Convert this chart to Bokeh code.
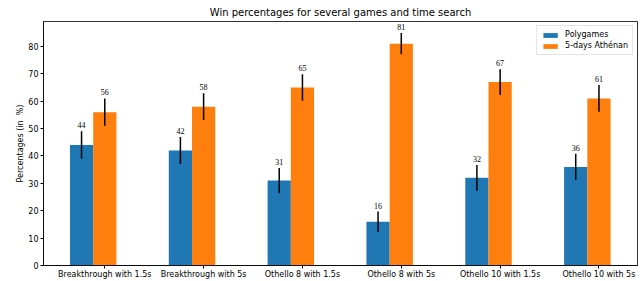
from bokeh.plotting import figure
from bokeh.models import ColumnDataSource, FixedTicker, Range1d, LabelSet, Legend, LegendItem
from bokeh.embed import file_html
from bokeh.resources import INLINE

categories = ["Breakthrough with 1.5s", "Breakthrough with 5s", "Othello 8 with 1.5s",
              "Othello 8 with 5s", "Othello 10 with 1.5s", "Othello 10 with 5s"]
polygames = [44, 42, 31, 16, 32, 36]
athenan = [56, 58, 65, 81, 67, 61]
polygames_err = [5.0, 4.9, 4.6, 3.7, 4.7, 4.8]
athenan_err = [5.0, 4.9, 4.8, 3.9, 4.7, 4.9]
series_names = ["Polygames", "5-days Athénan"]
y_ticks = [0, 10, 20, 30, 40, 50, 60, 70, 80]

colors = ["#1f77b4", "#ff7f0e"]
bar_w = 0.235
FONT = "DejaVu Sans"

idx = list(range(len(categories)))
src_p = ColumnDataSource(dict(
    x=[i - bar_w for i in idx], top=polygames,
    lo=[v - e for v, e in zip(polygames, polygames_err)],
    hi=[v + e for v, e in zip(polygames, polygames_err)],
    lab=[str(v) for v in polygames]))
src_a = ColumnDataSource(dict(
    x=[float(i) for i in idx], top=athenan,
    lo=[v - e for v, e in zip(athenan, athenan_err)],
    hi=[v + e for v, e in zip(athenan, athenan_err)],
    lab=[str(v) for v in athenan]))

p = figure(width=642, height=281, output_backend="svg", toolbar_location=None,
           x_range=Range1d(-0.62, 5.39), y_range=Range1d(0, 89.1),
           title="Win percentages for several games and time search",
           min_border_left=43, min_border_right=5, min_border_top=0, min_border_bottom=0)

p.title.align = "center"
p.title.text_font = FONT
p.title.text_font_size = "10px"
p.title.text_font_style = "normal"
p.title.text_color = "#000000"
p.title.offset = 0
p.title.standoff = 8

r1 = p.vbar(x="x", top="top", width=bar_w, source=src_p, fill_color=colors[0], line_color=None)
r2 = p.vbar(x="x", top="top", width=bar_w, source=src_a, fill_color=colors[1], line_color=None)

for s in (src_p, src_a):
    p.segment(x0="x", x1="x", y0="lo", y1="hi", source=s, line_color="black", line_width=1.5)
    p.add_layout(LabelSet(x="x", y="hi", text="lab", source=s, y_offset=3,
                          text_align="center", text_baseline="bottom",
                          text_font_size="8px", text_font=FONT, text_color="black"))

p.xgrid.grid_line_color = None
p.ygrid.grid_line_color = None
p.outline_line_color = "#000000"
p.outline_line_width = 0.8

p.xaxis.ticker = FixedTicker(ticks=idx)
p.xaxis.major_label_overrides = {i: c for i, c in zip(idx, categories)}
p.yaxis.ticker = FixedTicker(ticks=y_ticks)
p.yaxis.axis_label = "Percentages (in\u00a0 %)"

for ax in (p.xaxis, p.yaxis):
    ax.major_label_text_font = FONT
    ax.major_label_text_font_size = "8px"
    ax.major_label_text_color = "#000000"
    ax.axis_label_text_font = FONT
    ax.axis_label_text_font_size = "8px"
    ax.axis_label_text_font_style = "normal"
    ax.axis_label_text_color = "#000000"
    ax.minor_tick_line_color = None
    ax.major_tick_out = 3
    ax.major_tick_in = 0
    ax.major_tick_line_color = "#000000"
    ax.axis_line_color = "#000000"
    ax.axis_line_width = 0.8
    ax.major_label_standoff = 2
p.xaxis.major_label_standoff = 1
p.xaxis.axis_label_standoff = 0
p.yaxis.axis_label_standoff = 0

legend = Legend(items=[LegendItem(label=series_names[0], renderers=[r1]),
                       LegendItem(label=series_names[1], renderers=[r2])],
                location="top_right")
legend.label_text_font = FONT
legend.label_text_font_size = "8px"
legend.label_text_color = "#000000"
legend.glyph_width = 18
legend.glyph_height = 6
legend.label_height = 8
legend.spacing = 2
legend.padding = 4
legend.margin = 4
legend.border_line_color = "#cccccc"
legend.border_line_width = 1
legend.label_standoff = 6
p.add_layout(legend)

open("out.html", "w").write(file_html(p, INLINE))
